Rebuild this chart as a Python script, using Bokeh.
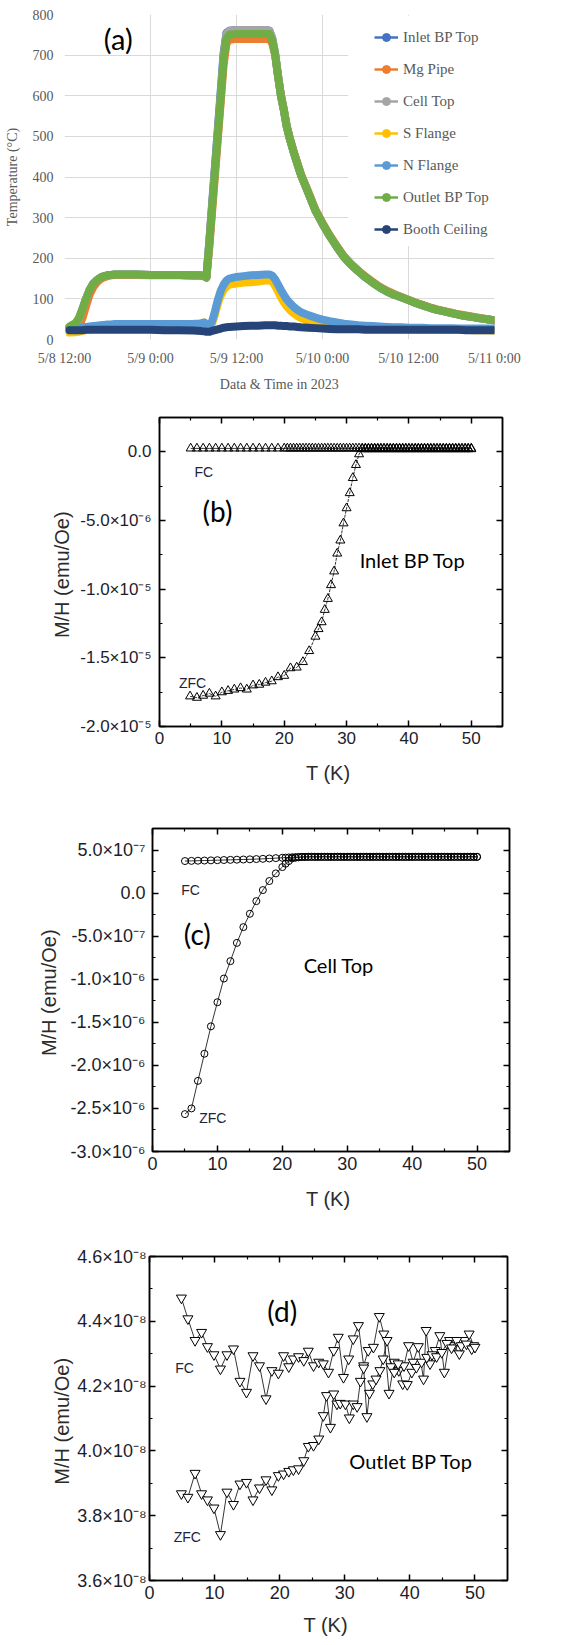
from bokeh.plotting import figure
from bokeh.models import Range1d, FixedTicker, LinearAxis, Legend, LegendItem, BoxAnnotation
from bokeh.layouts import column
from bokeh.embed import file_html
from bokeh.resources import INLINE
from bokeh.core.properties import value

# ======================= (a) temperature log =======================
# hours after 5/8 12:00
a_time_h = [0.7, 1.5, 2.0, 2.5, 3.0, 3.5, 4.0, 4.5, 5.0, 5.5, 6.0, 6.5, 7.0,
            8, 10, 12, 14, 16, 18, 19.0, 19.5, 19.8,
            20.2, 20.6, 21.0, 21.4, 21.8, 22.2, 22.6, 23.0,
            24, 25, 26, 27, 28,
            28.6, 29.0, 29.4, 29.8, 30.2, 30.6, 31.0, 31.5, 32, 32.5,
            33, 34, 35, 36, 37, 38, 39, 40, 41, 42, 43, 44, 45, 46,
            47, 48, 49, 50, 51, 52, 53, 54, 55, 56, 57, 58, 59, 60]

a_inlet_bp_top = [30, 38, 50, 74, 100, 122, 137, 146, 152, 156, 158, 159, 160,
                  160, 160, 159, 159, 159, 158, 158, 156, 153,
                  240, 335, 428, 520, 612, 705, 755, 760,
                  762, 762, 762, 762, 762,
                  760, 740, 702, 648, 600, 565, 525, 490, 460, 432,
                  405, 362, 318, 285, 255, 228, 203, 184, 168, 153, 140, 128, 118, 110,
                  104, 97, 90, 84, 78, 73, 69, 65, 61, 58, 55, 52, 50, 47]
a_mg_pipe = [22, 24, 32, 52, 82, 110, 128, 140, 148, 153, 156, 158, 159,
             159, 159, 158, 158, 158, 157, 157, 155, 152,
             225, 315, 405, 495, 585, 675, 728, 738,
             740, 740, 740, 740, 740,
             740, 728, 700, 650, 602, 567, 527, 492, 462, 434,
             407, 364, 320, 287, 257, 230, 205, 186, 170, 155, 142, 130, 120, 112,
             105, 98, 91, 85, 79, 74, 70, 66, 62, 59, 56, 53, 50, 47]
a_cell_top = [30, 38, 50, 74, 100, 122, 137, 146, 152, 156, 158, 159, 160,
              160, 160, 159, 159, 159, 158, 158, 156, 153,
              238, 330, 420, 512, 602, 700, 752, 760,
              762, 762, 762, 762, 762,
              760, 742, 702, 648, 600, 565, 525, 490, 460, 432,
              405, 362, 318, 285, 255, 228, 203, 184, 168, 153, 140, 128, 118, 110,
              104, 97, 90, 84, 78, 73, 69, 65, 61, 58, 55, 52, 50, 47]
a_s_flange = [17, 18, 19, 21, 23, 25, 27, 29, 31, 33, 34, 35, 36,
              37, 38, 38, 38, 38, 39, 40, 42, 38,
              35, 40, 62, 88, 108, 122, 130, 135,
              138, 140, 141, 143, 145,
              146, 142, 132, 118, 104, 92, 82, 72, 64, 58,
              53, 46, 41, 37, 34, 32, 30, 29, 28, 27, 27, 26, 26, 26,
              26, 25, 25, 25, 25, 25, 24, 24, 24, 24, 23, 23, 23, 22]
a_n_flange = [25, 27, 28, 30, 31, 32, 33, 34, 35, 36, 37, 37, 38,
              38, 38, 38, 38, 38, 38, 39, 42, 36,
              34, 45, 70, 98, 120, 135, 145, 150,
              154, 156, 158, 159, 160,
              160, 157, 148, 135, 122, 110, 99, 89, 80, 73,
              67, 60, 54, 49, 45, 42, 39, 37, 35, 34, 33, 32, 31, 30,
              30, 29, 29, 29, 28, 28, 28, 28, 27, 27, 27, 27, 27, 27]
a_outlet_bp_top = [32, 40, 52, 75, 100, 122, 137, 146, 152, 156, 158, 159, 160,
                   160, 160, 159, 159, 159, 158, 158, 156, 153,
                   235, 325, 415, 505, 595, 690, 740, 750,
                   752, 752, 752, 752, 752,
                   752, 735, 700, 648, 600, 565, 525, 490, 460, 432,
                   405, 362, 318, 285, 255, 228, 203, 184, 168, 153, 140, 128, 118, 110,
                   104, 97, 90, 84, 78, 73, 69, 65, 61, 58, 55, 52, 50, 47]
a_booth_ceiling = [23, 23, 23, 23, 24, 24, 24, 24, 24, 24, 24, 24, 24,
                   24, 24, 24, 23, 23, 22, 21, 20, 19,
                   19, 21, 23, 25, 27, 29, 30, 31,
                   32, 33, 34, 34, 35,
                   35, 35, 35, 34, 34, 33, 33, 32, 32, 31,
                   30, 29, 28, 27, 26, 25, 25, 25, 25, 24, 24, 24, 24, 24,
                   24, 24, 24, 24, 24, 24, 24, 24, 24, 23, 23, 23, 23, 23]

a_names = ["Inlet BP Top", "Mg Pipe", "Cell Top", "S Flange", "N Flange", "Outlet BP Top", "Booth Ceiling"]
a_colors = ["#4472C4", "#ED7D31", "#A5A5A5", "#FFC000", "#5B9BD5", "#70AD47", "#264478"]
a_xticks = [0, 12, 24, 36, 48, 60]
a_xlabels = ["5/8 12:00", "5/9 0:00", "5/9 12:00", "5/10 0:00", "5/10 12:00", "5/11 0:00"]
a_yticks = [0, 100, 200, 300, 400, 500, 600, 700, 800]

# ======================= (b) Inlet BP Top =======================
b_fc_T = [5, 6, 7, 8, 9, 10, 11, 12, 13, 14, 15, 16, 17, 18, 19, 20,
          20.5, 21, 21.5, 22, 22.5, 23, 23.5, 24, 24.5, 25, 25.5, 26, 26.5, 27, 27.5, 28, 28.5, 29, 29.5, 30,
          30.5, 31, 31.5, 32, 32.5, 33, 33.5, 34, 34.5, 35, 35.5, 36, 36.5, 37, 37.5, 38, 38.5, 39, 39.5, 40,
          40.5, 41, 41.5, 42, 42.5, 43, 43.5, 44, 44.5, 45, 45.5, 46, 46.5, 47, 47.5, 48, 48.5, 49, 49.5, 50]
# units of 1e-6 emu/Oe
b_fc_M = [0.25, 0.25, 0.25, 0.25, 0.25, 0.25, 0.25, 0.25, 0.25, 0.25, 0.25, 0.25, 0.25, 0.25, 0.25, 0.25,
          0.25, 0.25, 0.25, 0.25, 0.25, 0.25, 0.25, 0.25, 0.25, 0.25, 0.25, 0.25, 0.25, 0.25, 0.25, 0.25, 0.25, 0.25, 0.25, 0.25,
          0.25, 0.25, 0.25, 0.25, 0.25, 0.25, 0.25, 0.25, 0.25, 0.25, 0.25, 0.25, 0.25, 0.25, 0.25, 0.25, 0.25, 0.25, 0.25, 0.25,
          0.25, 0.25, 0.25, 0.25, 0.25, 0.25, 0.25, 0.25, 0.25, 0.25, 0.25, 0.25, 0.25, 0.25, 0.25, 0.25, 0.25, 0.25, 0.25, 0.25]
b_zfc_T = [4.9, 6.0, 7.0, 8.0, 9.0, 10.0, 11.0, 12.0, 13.0, 14.0, 15.0, 16.0, 17.0, 18.0, 19.0, 20.0,
           21.0, 22.0, 23.0, 24.0, 25.0, 25.5, 26.0, 26.5, 27.0, 27.5, 28.0, 28.5, 29.0, 29.5, 30.0,
           30.5, 31.0, 31.5, 32.0,
           32.5, 33, 33.5, 34, 34.5, 35, 35.5, 36, 36.5, 37, 37.5, 38, 38.5, 39, 39.5, 40, 40.5, 41,
           41.5, 42, 42.5, 43, 43.5, 44, 44.5, 45, 45.5, 46, 46.5, 47, 47.5, 48, 48.5, 49, 49.5, 50]
b_zfc_M = [-17.8, -17.9, -17.75, -17.6, -17.8, -17.5, -17.4, -17.3, -17.2, -17.3, -17.0, -16.95, -16.8, -16.7, -16.4, -16.3,
           -15.75, -15.7, -15.3, -14.5, -13.45, -12.9, -12.4, -11.5, -10.7, -9.7, -8.7, -7.4, -6.45, -5.2, -4.1,
           -3.0, -1.9, -0.95, -0.17,
           0.2, 0.2, 0.2, 0.2, 0.2, 0.2, 0.2, 0.2, 0.2, 0.2, 0.2, 0.2, 0.2, 0.2, 0.2, 0.2, 0.2, 0.2,
           0.2, 0.2, 0.2, 0.2, 0.2, 0.2, 0.2, 0.2, 0.2, 0.2, 0.2, 0.2, 0.2, 0.2, 0.2, 0.2, 0.2, 0.2]
b_yticks = [-2.0e-5, -1.5e-5, -1.0e-5, -5.0e-6, 0.0]
b_ylabels = ["-2.0×10⁻⁵", "-1.5×10⁻⁵", "-1.0×10⁻⁵", "-5.0×10⁻⁶", "0.0"]
b_yminor = [-1.75e-5, -1.25e-5, -7.5e-6, -2.5e-6]

# ======================= (c) Cell Top =======================
c_fc_T = list(b_fc_T)
# units of 1e-7 emu/Oe
c_fc_M = [3.72, 3.74, 3.76, 3.78, 3.80, 3.82, 3.84, 3.86, 3.88, 3.90, 3.92, 3.95, 3.98, 4.02, 4.06, 4.10,
          4.12, 4.14, 4.16, 4.18, 4.19, 4.20, 4.21,
          4.22, 4.22, 4.22, 4.22, 4.22, 4.22, 4.22, 4.22, 4.22, 4.22, 4.22, 4.22, 4.22, 4.22, 4.22, 4.22, 4.22, 4.22,
          4.22, 4.22, 4.22, 4.22, 4.22, 4.22, 4.22, 4.22, 4.22, 4.22, 4.22, 4.22, 4.22, 4.22, 4.22, 4.22, 4.22, 4.22,
          4.22, 4.22, 4.22, 4.22, 4.22, 4.22, 4.22, 4.22, 4.22, 4.22, 4.22, 4.22, 4.22, 4.22, 4.22, 4.22, 4.22]
c_zfc_T = list(b_fc_T)
# units of 1e-6 emu/Oe
c_zfc_M = [-2.566, -2.50, -2.18, -1.865, -1.547, -1.267, -0.992, -0.79, -0.578, -0.395, -0.24, -0.093, 0.035, 0.14, 0.229, 0.302,
           0.341, 0.372, 0.403, 0.41, 0.415,
           0.42, 0.42, 0.42, 0.42, 0.42, 0.42, 0.42, 0.42, 0.42, 0.42, 0.42, 0.42, 0.42, 0.42, 0.42, 0.42, 0.42, 0.42,
           0.42, 0.42, 0.42, 0.42, 0.42, 0.42, 0.42, 0.42, 0.42, 0.42, 0.42, 0.42, 0.42, 0.42, 0.42, 0.42, 0.42, 0.42,
           0.42, 0.42, 0.42, 0.42, 0.42, 0.42, 0.42, 0.42, 0.42, 0.42, 0.42, 0.42, 0.42, 0.42, 0.42, 0.42, 0.42, 0.42, 0.42]
c_yticks = [-3.0e-6, -2.5e-6, -2.0e-6, -1.5e-6, -1.0e-6, -5.0e-7, 0.0, 5.0e-7]
c_ylabels = ["-3.0×10⁻⁶", "-2.5×10⁻⁶", "-2.0×10⁻⁶", "-1.5×10⁻⁶", "-1.0×10⁻⁶", "-5.0×10⁻⁷", "0.0", "5.0×10⁻⁷"]
c_yminor = [-2.75e-6, -2.25e-6, -1.75e-6, -1.25e-6, -7.5e-7, -2.5e-7, 2.5e-7]

# ======================= (d) Outlet BP Top =======================
d_fc_T = [4.9, 5.9, 7.0, 8.0, 8.9, 9.9, 10.9, 11.9, 12.9, 13.9, 14.9, 15.9, 16.9, 17.9, 18.8,
          19.8, 20.6, 21.4, 22.1, 22.9, 23.7, 24.4, 25.2, 26.0, 26.7, 27.5, 28.3, 29.0, 29.8, 30.6,
          31.3, 32.1, 32.9, 33.6, 34.4, 35.3, 36.0, 36.8, 37.6, 38.3, 39.1, 39.8, 40.5, 41.3, 42.1,
          42.5, 43.1, 43.9, 44.6, 45.3, 46.1, 46.8, 47.6, 48.4, 49.1, 49.8]
# units of 1e-8 emu/Oe
d_fc_M = [4.472, 4.408, 4.341, 4.366, 4.322, 4.297, 4.253, 4.297, 4.315, 4.215, 4.181, 4.294, 4.263, 4.161, 4.248,
          4.240, 4.294, 4.260, 4.284, 4.291, 4.279, 4.308, 4.263, 4.274, 4.269, 4.243, 4.310, 4.351, 4.227, 4.284,
          4.346, 4.387, 4.263, 4.310, 4.320, 4.415, 4.361, 4.178, 4.274, 4.248, 4.263, 4.325, 4.274, 4.322, 4.222,
          4.372, 4.269, 4.310, 4.356, 4.243, 4.341, 4.325, 4.300, 4.341, 4.361, 4.325]
d_zfc_T = [4.9, 5.9, 7.0, 8.0, 8.9, 9.9, 10.9, 11.9, 12.9, 13.9, 14.9, 15.9, 16.9, 17.9, 18.8,
           19.8, 20.6, 21.4, 22.1, 22.9, 23.7, 24.4, 25.2, 26.0, 26.7, 27.2, 27.8, 28.3, 28.8, 29.3,
           30.1, 30.7, 31.3, 31.9, 32.4, 32.9, 33.4, 33.8, 34.3, 34.8, 35.4, 35.9, 36.5, 37.1, 37.6,
           38.2, 38.9, 39.6, 40.3, 41.0, 41.8, 42.6, 43.4, 44.1, 44.9, 45.7, 46.4, 47.2, 47.9, 48.7,
           49.5, 50.0]
d_zfc_M = [3.868, 3.857, 3.931, 3.868, 3.849, 3.824, 3.742, 3.873, 3.835, 3.898, 3.903, 3.849, 3.886, 3.911, 3.880,
           3.924, 3.929, 3.937, 3.942, 3.945, 3.970, 4.014, 4.017, 4.037, 4.109, 4.171, 4.073, 4.176, 4.145, 4.147,
           4.145, 4.102, 4.145, 4.137, 4.215, 4.256, 4.106, 4.178, 4.207, 4.222, 4.248, 4.284, 4.341, 4.260, 4.243,
           4.269, 4.207, 4.205, 4.243, 4.258, 4.274, 4.289, 4.297, 4.291, 4.304, 4.332, 4.318, 4.341, 4.325, 4.330,
           4.315, 4.320]
d_yticks = [3.6e-8, 3.8e-8, 4.0e-8, 4.2e-8, 4.4e-8, 4.6e-8]
d_ylabels = ["3.6×10⁻⁸", "3.8×10⁻⁸", "4.0×10⁻⁸", "4.2×10⁻⁸", "4.4×10⁻⁸", "4.6×10⁻⁸"]
d_yminor = [3.7e-8, 3.9e-8, 4.1e-8, 4.3e-8, 4.5e-8]

mh_xticks = [0, 10, 20, 30, 40, 50]
mh_xminor = [5, 15, 25, 35, 45]

for arr in (a_inlet_bp_top, a_mg_pipe, a_cell_top, a_s_flange, a_n_flange, a_outlet_bp_top, a_booth_ceiling):
    assert len(arr) == len(a_time_h), len(arr)
assert len(b_fc_T) == len(b_fc_M) and len(b_zfc_T) == len(b_zfc_M)
assert len(c_fc_T) == len(c_fc_M) and len(c_zfc_T) == len(c_zfc_M), (len(c_fc_M), len(c_zfc_M))
assert len(d_fc_T) == len(d_fc_M) and len(d_zfc_T) == len(d_zfc_M)

W = 586


def no_align(p):
    if "frame_align" in p.properties():
        p.frame_align = False


# ---------------- panel (a) ----------------
pa = figure(width=W, height=400, output_backend="svg", toolbar_location=None,
            x_range=Range1d(0, 60), y_range=Range1d(0, 800),
            min_border_left=64, min_border_right=W - 64 - 430, min_border_top=14, min_border_bottom=61)
no_align(pa)
pa.outline_line_color = None
pa.background_fill_color = "white"
pa.border_fill_color = "white"
pa.xaxis.ticker = FixedTicker(ticks=a_xticks)
pa.yaxis.ticker = FixedTicker(ticks=a_yticks)
pa.xaxis.major_label_overrides = dict(zip(a_xticks, a_xlabels))
pa.grid.grid_line_color = "#d9d9d9"
pa.grid.grid_line_width = 1
for ax in pa.axis:
    ax.axis_line_color = None
    ax.major_tick_line_color = None
    ax.minor_tick_line_color = None
    ax.major_tick_in = 0
    ax.major_tick_out = 0
    ax.minor_tick_in = 0
    ax.minor_tick_out = 0
    ax.major_label_text_font = "Liberation Serif"
    ax.major_label_text_font_size = "14px"
    ax.major_label_text_color = "#595959"
    ax.axis_label_text_font = "Liberation Serif"
    ax.axis_label_text_font_size = "14px"
    ax.axis_label_text_font_style = "normal"
    ax.axis_label_text_color = "#595959"
pa.xaxis.axis_label = "Data & Time in 2023"
pa.yaxis.axis_label = "Temperature (°C)"
pa.xaxis.major_label_standoff = 11
pa.xaxis.axis_label_standoff = 8
pa.yaxis.major_label_standoff = 11
pa.yaxis.axis_label_standoff = 10

# white legend panel hiding the gridlines behind it (as in the spreadsheet chart)
pa.add_layout(BoxAnnotation(left=39.6, right=60, bottom=230, top=797, fill_color="white", fill_alpha=1.0,
                            line_color=None, level="underlay"))

a_series = [a_inlet_bp_top, a_mg_pipe, a_cell_top, a_s_flange, a_n_flange, a_outlet_bp_top, a_booth_ceiling]
for ys, col in zip(a_series, a_colors):
    pa.line(a_time_h, ys, line_color=col, line_width=8, line_join="round", line_cap="round")

nan = float("nan")
items = []
for name, col in zip(a_names, a_colors):
    lr = pa.line(x=[nan, nan], y=[nan, nan], line_color=col, line_width=2.5)
    cr = pa.scatter(x=[nan], y=[nan], marker="circle", size=7, fill_color=col, line_color=col)
    items.append(LegendItem(label=name, renderers=[lr, cr]))
leg = Legend(items=items, location=(310, 100), margin=0, padding=8, spacing=12,
             glyph_width=24, glyph_height=20, label_height=20, label_standoff=5,
             label_text_font="Liberation Serif", label_text_font_size="15px",
             label_text_color="#595959", background_fill_color="white", background_fill_alpha=1.0,
             border_line_color=None)
pa.add_layout(leg)
pa.text(x=[7.5], y=[742], text=["(a)"], text_font=value("Lato"), text_font_size="29px",
        text_align="center", text_baseline="middle", text_color="black")


# ---------------- M/H panels ----------------
def mh_fig(h, bl, fw, bt, bb, yr, yticks, ylabels, yminor, tick_fs, x_ls, x_ts, y_ls, y_ts):
    p = figure(width=W, height=h, output_backend="svg", toolbar_location=None,
               x_range=Range1d(0, 55), y_range=Range1d(yr[0], yr[1]),
               min_border_left=bl, min_border_top=bt, min_border_bottom=bb, min_border_right=W - bl - fw)
    no_align(p)
    p.grid.visible = False
    p.background_fill_color = "white"
    p.border_fill_color = "white"
    p.outline_line_color = "black"
    p.outline_line_width = 1.5
    xt = FixedTicker(ticks=mh_xticks, minor_ticks=mh_xminor)
    yt = FixedTicker(ticks=yticks, minor_ticks=yminor)
    bottom_ax = p.below[0]
    left_ax = p.left[0]
    bottom_ax.ticker = xt
    left_ax.ticker = yt
    left_ax.major_label_overrides = dict(zip(yticks, ylabels))
    bottom_ax.axis_label = "T  (K)"
    left_ax.axis_label = "M/H  (emu/Oe)"
    right = LinearAxis(ticker=FixedTicker(ticks=yticks, minor_ticks=yminor),
                       major_label_overrides={t: "" for t in yticks})
    top = LinearAxis(ticker=FixedTicker(ticks=mh_xticks, minor_ticks=mh_xminor),
                     major_label_overrides={t: "" for t in mh_xticks})
    p.add_layout(right, "right")
    p.add_layout(top, "above")
    for ax in [bottom_ax, left_ax, right, top]:
        ax.axis_line_color = "black"
        ax.axis_line_width = 1.5
        ax.major_tick_line_color = "black"
        ax.major_tick_line_width = 1.5
        ax.minor_tick_line_color = "black"
        ax.minor_tick_line_width = 1.2
        ax.major_tick_in = 6
        ax.major_tick_out = 0
        ax.minor_tick_in = 3
        ax.minor_tick_out = 0
        ax.major_label_text_font = "Liberation Sans"
        ax.major_label_text_font_size = tick_fs
        ax.major_label_text_color = "#1d1d2b"
        ax.axis_label_text_font = "Liberation Sans"
        ax.axis_label_text_font_size = "20px"
        ax.axis_label_text_font_style = "normal"
        ax.axis_label_text_color = "#2b2b2b"
    bottom_ax.major_label_standoff = x_ls
    bottom_ax.axis_label_standoff = x_ts
    left_ax.major_label_standoff = y_ls
    left_ax.axis_label_standoff = y_ts
    return p


def add_text(p, x, y, txt, font, size, color="black"):
    p.text(x=[x], y=[y], text=[txt], text_font=value(font), text_font_size=size,
           text_align="center", text_baseline="middle", text_color=color)


# (b)
pb = mh_fig(400, 159, 343, 17, 74, (-2.0e-5, 2.5e-6), b_yticks, b_ylabels, b_yminor, "17px", 5, 15, 8, 4)
pb.line(b_fc_T, [v * 1e-6 for v in b_fc_M], line_color="black", line_width=0.8)
pb.scatter(b_fc_T, [v * 1e-6 for v in b_fc_M], marker="triangle", size=9, fill_color=None,
           line_color="black", line_width=1)
pb.line(b_zfc_T, [v * 1e-6 for v in b_zfc_M], line_color="black", line_width=0.8, line_dash="3 1")
pb.scatter(b_zfc_T, [v * 1e-6 for v in b_zfc_M], marker="triangle", size=9, fill_color=None,
           line_color="black", line_width=1)
add_text(pb, 7.1, -1.45e-6, "FC", "Liberation Sans", "14px", "#22223a")
add_text(pb, 5.3, -16.8e-6, "ZFC", "Liberation Sans", "14px", "#22223a")
add_text(pb, 9.3, -4.3e-6, "(b)", "Lato", "28px")
add_text(pb, 40.6, -7.9e-6, "Inlet BP Top", "Lato", "20px")

# (c)
pc = mh_fig(425, 152, 357, 28, 74, (-3.0e-6, 7.5e-7), c_yticks, c_ylabels, c_yminor, "18px", 5, 15, 7, 8)
pc.line(c_fc_T, [v * 1e-7 for v in c_fc_M], line_color="black", line_width=0.8)
pc.scatter(c_fc_T, [v * 1e-7 for v in c_fc_M], marker="circle", size=7, fill_color=None,
           line_color="black", line_width=1)
pc.line(c_zfc_T, [v * 1e-6 for v in c_zfc_M], line_color="black", line_width=0.8)
pc.scatter(c_zfc_T, [v * 1e-6 for v in c_zfc_M], marker="circle", size=7, fill_color=None,
           line_color="black", line_width=1)
add_text(pc, 5.85, 0.04e-6, "FC", "Liberation Sans", "14px", "#22223a")
add_text(pc, 9.3, -2.61e-6, "ZFC", "Liberation Sans", "14px", "#22223a")
add_text(pc, 6.9, -0.48e-6, "(c)", "Lato", "28px")
add_text(pc, 28.7, -0.84e-6, "Cell Top", "Lato", "20px")

# (d)
pd_ = mh_fig(418, 149, 358, 31, 63, (3.6e-8, 4.6e-8), d_yticks, d_ylabels, d_yminor, "18px", 5, 12, 3, 1)
pd_.line(d_fc_T, [v * 1e-8 for v in d_fc_M], line_color="black", line_width=0.8)
pd_.scatter(d_fc_T, [v * 1e-8 for v in d_fc_M], marker="inverted_triangle", size=10, fill_color="white",
            line_color="black", line_width=1)
pd_.line(d_zfc_T, [v * 1e-8 for v in d_zfc_M], line_color="black", line_width=0.8)
pd_.scatter(d_zfc_T, [v * 1e-8 for v in d_zfc_M], marker="inverted_triangle", size=10, fill_color="white",
            line_color="black", line_width=1)
add_text(pd_, 5.4, 4.257e-8, "FC", "Liberation Sans", "14px", "#22223a")
add_text(pd_, 5.8, 3.733e-8, "ZFC", "Liberation Sans", "14px", "#22223a")
add_text(pd_, 20.4, 4.433e-8, "(d)", "Lato", "28px")
add_text(pd_, 40.2, 3.97e-8, "Outlet BP Top", "Lato", "20px")

layout = column(pa, pb, pc, pd_, spacing=0)
open("out.html", "w").write(file_html(layout, INLINE))
